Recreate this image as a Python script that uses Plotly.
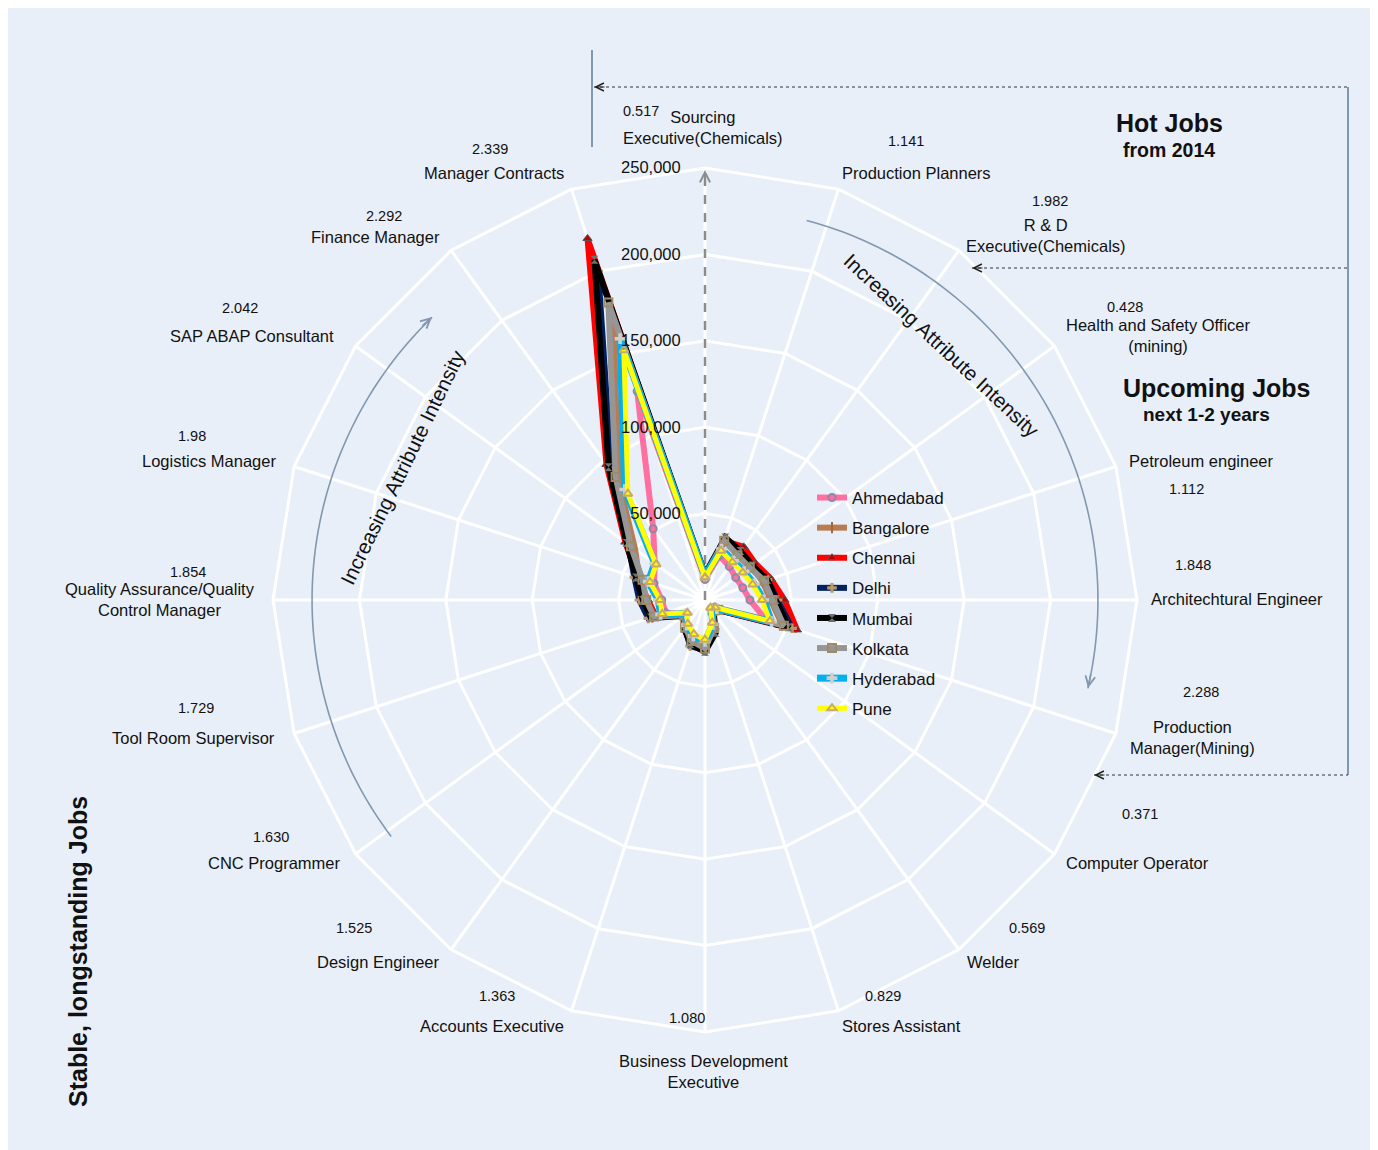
import numpy as np
import plotly.graph_objects as go

# ---------------- data ----------------
categories = [
    "Sourcing Executive(Chemicals)", "Production Planners", "R & D Executive(Chemicals)",
    "Health and Safety Officer (mining)", "Petroleum engineer", "Architechtural Engineer",
    "Production Manager(Mining)", "Computer Operator", "Welder", "Stores Assistant",
    "Business Development Executive", "Accounts Executive", "Design Engineer", "CNC Programmer",
    "Tool Room Supervisor", "Quality Assurance/Quality Control Manager", "Logistics Manager",
    "SAP ABAP Consultant", "Finance Manager", "Manager Contracts",
]
label_text = [
    "Sourcing<br>Executive(Chemicals)", "Production Planners", "R & D<br>Executive(Chemicals)",
    "Health and Safety Officer<br>(mining)", "Petroleum engineer", "Architechtural Engineer",
    "Production<br>Manager(Mining)", "Computer Operator", "Welder", "Stores Assistant",
    "Business Development<br>Executive", "Accounts Executive", "Design Engineer", "CNC Programmer",
    "Tool Room Supervisor", "Quality Assurance/Quality<br>Control Manager", "Logistics Manager",
    "SAP ABAP Consultant", "Finance Manager", "Manager Contracts",
]
intensity = ["0.517", "1.141", "1.982", "0.428", "1.112", "1.848", "2.288", "0.371", "0.569", "0.829",
             "1.080", "1.363", "1.525", "1.630", "1.729", "1.854", "1.98", "2.042", "2.292", "2.339"]
radial_ticks = [50000, 100000, 150000, 200000, 250000]

cities = ["Ahmedabad", "Bangalore", "Chennai", "Delhi", "Mumbai", "Kolkata", "Hyderabad", "Pune"]
ahmedabad = [12000, 27000, 24000, 22000, 23000, 26000, 37000, 7000, 6000, 15500, 25000, 22500, 18500, 14000, 24000, 25000, 31000, 36000, 51000, 127000]
bangalore = [14500, 37000, 33000, 33000, 35000, 38000, 47000, 9500, 7500, 18000, 27000, 26000, 20500, 16000, 32000, 35000, 40000, 50000, 85000, 172000]
chennai = [13000, 36000, 38000, 36000, 40000, 46000, 56000, 10500, 8000, 17000, 27000, 26000, 19000, 14500, 30000, 33000, 41000, 57000, 97000, 220000]
delhi = [14000, 37000, 34000, 33000, 38000, 42000, 53000, 10000, 8000, 18000, 29000, 28000, 19700, 15500, 34500, 38000, 43000, 55000, 92000, 200000]
mumbai = [15000, 38000, 35000, 34000, 38000, 41000, 51000, 10000, 8500, 20000, 30000, 27000, 20500, 15000, 33000, 36000, 42000, 56000, 95000, 207000]
kolkata = [14000, 36000, 32000, 32000, 36000, 39000, 48000, 9500, 7500, 17000, 28000, 25000, 19500, 15000, 31000, 34000, 38000, 53000, 88000, 181000]
hyderabad = [14000, 31000, 28000, 28000, 30000, 34000, 40500, 8500, 6500, 14800, 24000, 21800, 18000, 13600, 27000, 27000, 34500, 36000, 79000, 159000]
pune = [13000, 30000, 27000, 27000, 29000, 33000, 39500, 7500, 5500, 13800, 23000, 20800, 17000, 12600, 26000, 26000, 33500, 35000, 76000, 152000]
series = [ahmedabad, bangalore, chennai, delhi, mumbai, kolkata, hyderabad, pune]

# ---------------- styles ----------------
line_colors = ["#FF6F9F", "#B87C50", "#FF0000", "#002060", "#000000", "#969696", "#00B0F0", "#FFFF00"]
line_widths = [6, 6, 6, 6, 6, 6, 7, 5]
markers = [
    dict(symbol="circle-open", size=7, color="#8A8AA8", line=dict(width=2, color="#8A8AA8")),
    dict(symbol="line-ns-open", size=8, color="#A0683E", line=dict(width=2, color="#A0683E")),
    dict(symbol="triangle-up", size=8, color="#C00000", line=dict(width=1, color="#555555")),
    dict(symbol="cross", size=8, color="#B8986A", line=dict(width=0)),
    dict(symbol="hourglass", size=8, color="#707070", line=dict(width=0)),
    dict(symbol="square-open", size=8, color="#A08C64", line=dict(width=2, color="#A08C64")),
    dict(symbol="cross", size=9, color="#CFCFCF", line=dict(width=0)),
    dict(symbol="triangle-up-open", size=8, color="#C8A870", line=dict(width=2, color="#C8A870")),
]

BG = "#E9EFF8"
STEEL = "#8198B0"
SANS = "Liberation Sans, Arial, sans-serif"
TXT = "#111111"

W, H, OFF = 1362, 1142, 8


def P(x, y):
    return (x - OFF) / W, 1 - (y - OFF) / H


CX, CY, R = 705, 600, 432
dom_x = [(CX - OFF - R) / W, (CX - OFF + R) / W]
dom_y = [1 - (CY - OFF + R) / H, 1 - (CY - OFF - R) / H]

fig = go.Figure()

# radial dashed axis arrow (drawn along the first category)
fig.add_trace(go.Scatterpolar(
    r=[0, radial_ticks[-1]], theta=[categories[0], categories[0]], mode="lines",
    line=dict(color="#8C8C8C", width=2.5, dash="dash"), showlegend=False, hoverinfo="skip",
))

for name, vals, col, lw, mk in zip(cities, series, line_colors, line_widths, markers):
    fig.add_trace(go.Scatterpolar(
        r=vals + vals[:1], theta=categories + categories[:1], name=name, legendgroup=name,
        mode="lines+markers", line=dict(color=col, width=lw), marker=mk,
    ))

# decorative curved arrows on an overlaid polar
arc_r = 227400
for a0, a1 in [(15, 103), (233, 316)]:
    th = np.linspace(a0, a1, 80)
    fig.add_trace(go.Scatterpolar(
        r=[arc_r] * len(th), theta=th, mode="lines", subplot="polar2",
        line=dict(color=STEEL, width=1.6), showlegend=False, hoverinfo="skip",
    ))

annotations = []


def text_ann(txt, px, py, size, angle=0, bold=False):
    x, y = P(px, py)
    annotations.append(dict(x=x, y=y, xref="paper", yref="paper", xanchor="center",
                            yanchor="middle", text=("<b>%s</b>" % txt) if bold else txt,
                            showarrow=False, textangle=angle, align="center",
                            font=dict(family=SANS, size=size, color=TXT)))


# category labels and intensity numbers
label_pos = [(703, 127), (916, 173), (1046, 236), (1158, 335), (1201, 461), (1237, 599),
             (1192, 737), (1137, 863), (993, 962), (901, 1026), (703, 1071), (492, 1026),
             (378, 962), (274, 863), (193, 738), (160, 600), (209, 461), (252, 336),
             (375, 237), (494, 173)]
number_pos = [(641, 111), (906, 141), (1050, 201), (1125, 307), (1186, 489), (1193, 565),
              (1201, 692), (1140, 814), (1027, 928), (883, 996), (687, 1018), (497, 996),
              (354, 928), (271, 837), (196, 708), (188, 572), (192, 436), (240, 308),
              (384, 216), (490, 149)]
for txt, (lx, ly), num, (nx, ny) in zip(label_text, label_pos, intensity, number_pos):
    text_ann(txt, lx, ly, 16.5)
    text_ann(num, nx, ny, 14.5)

# titles
text_ann("Hot Jobs", 1169, 123, 25, bold=True)
text_ann("from 2014", 1169, 150, 19.5, bold=True)
text_ann("Upcoming Jobs", 1217, 388, 25, bold=True)
text_ann("next 1-2 years", 1206, 415, 19, bold=True)
text_ann("Stable, longstanding Jobs", 78, 952, 25, angle=-90, bold=True)
text_ann("Increasing Attribute Intensity", 942, 345, 20.5, angle=43)
text_ann("Increasing Attribute Intensity", 402, 467, 20.5, angle=-64)

# arrowheads
heads = [
    (594, 87, 12, 0, "#222222", 1, 1.6),
    (972, 268, 12, 0, "#222222", 1, 1.6),
    (1094, 775, 12, 0, "#222222", 1, 1.6),
    (705, 170, 0, 14, "#8C8C8C", 2, 1.0),
    (1088, 688, 3, -15, STEEL, 1.6, 1.2),
    (432, 317, -11, 10, STEEL, 1.6, 1.2),
]
for hx, hy, ax, ay, col, aw, asz in heads:
    x, y = P(hx, hy)
    annotations.append(dict(x=x, y=y, xref="paper", yref="paper", text="", showarrow=True,
                            ax=ax, ay=ay, axref="pixel", ayref="pixel", arrowhead=5,
                            arrowwidth=aw, arrowsize=asz, arrowcolor=col, standoff=0))

shapes = []


def seg(x0, y0, x1, y1, color, width, dash="solid"):
    a, b = P(x0, y0)
    c, d = P(x1, y1)
    shapes.append(dict(type="line", xref="paper", yref="paper", x0=a, y0=b, x1=c, y1=d,
                       line=dict(color=color, width=width, dash=dash)))


seg(592, 50, 592, 147, STEEL, 2)
seg(594, 87, 1348, 87, "#333333", 1, "dot")
seg(1348, 87, 1348, 775, STEEL, 2)
seg(972, 268, 1348, 268, "#333333", 1, "dot")
seg(1094, 775, 1348, 775, "#333333", 1, "dot")

lx, ly = P(812, 480)
fig.update_layout(
    width=W, height=H, margin=dict(l=0, r=0, t=0, b=0),
    paper_bgcolor=BG, plot_bgcolor=BG,
    showlegend=True,
    legend=dict(x=lx, y=ly, xanchor="left", yanchor="top", bgcolor="rgba(0,0,0,0)",
                font=dict(family=SANS, size=17, color=TXT), itemwidth=30,
                tracegroupgap=5, traceorder="grouped"),
    polar=dict(
        domain=dict(x=dom_x, y=dom_y), bgcolor="rgba(0,0,0,0)", gridshape="linear",
        angularaxis=dict(direction="clockwise", rotation=90, showticklabels=False, ticks="",
                         gridcolor="white", gridwidth=2.5, showline=True, linecolor="white",
                         linewidth=3),
        radialaxis=dict(range=[0, 250000], tickvals=radial_ticks, tickformat=",", angle=90,
                        side="counterclockwise", tickangle=90, showline=False,
                        gridcolor="white", gridwidth=3, ticks="outside", ticklen=18,
                        tickcolor="rgba(0,0,0,0)",
                        tickfont=dict(family=SANS, size=16.5, color=TXT)),
    ),
    polar2=dict(
        domain=dict(x=dom_x, y=dom_y), bgcolor="rgba(0,0,0,0)",
        angularaxis=dict(visible=False, direction="clockwise", rotation=90),
        radialaxis=dict(visible=False, range=[0, 250000]),
    ),
    annotations=annotations, shapes=shapes,
)

fig.write_html("out.html")
